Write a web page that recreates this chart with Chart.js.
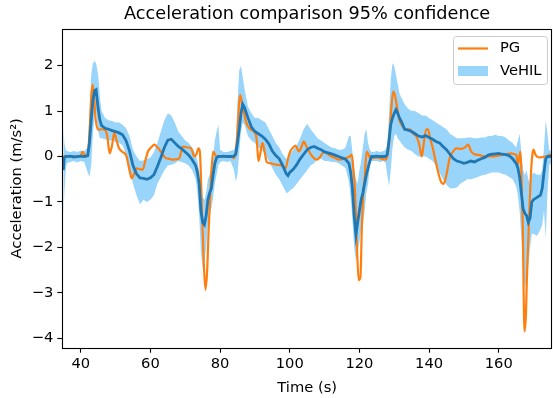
<!DOCTYPE html>
<html><head><meta charset="utf-8">
<script src="https://cdn.jsdelivr.net/npm/chart.js@4.4.0/dist/chart.umd.min.js"></script>
<style>html,body{margin:0;padding:0;background:#fff;}canvas{display:block;}</style>
</head><body>
<canvas id="c" width="553" height="398"></canvas>
<script>
const TITLE = "Acceleration comparison 95% confidence";
const X_LABEL = "Time (s)";
const Y_LABEL = "Acceleration (m/s²)";
const xTicks = [40, 60, 80, 100, 120, 140, 160];
const yTicks = [-4, -3, -2, -1, 0, 1, 2];
const yTickLabels = ["−4", "−3", "−2", "−1", "0", "1", "2"];
const seriesNames = ["PG", "VeHIL"];

const PG_t = [35,36,37,38,39,40,40.5,41,41.5,42,42.5,43,43.4,43.8,44.3,45,46,47,47.6,48.3,49,49.6,50.3,51,52,53,54,54.6,55.3,56,57,57.8,58.5,59.3,60.2,61.2,62,62.6,63.5,64.5,65.5,66.4,67.5,68.3,68.8,69.3,70.5,71.7,72.6,73.2,73.8,74.2,74.8,75.3,75.8,76.3,76.7,77.4,78,78.5,79,80,81,82,83,84,84.5,85,85.5,85.8,86.4,87.4,88.8,90.2,90.6,91,91.5,92.2,92.8,93.4,94.5,96,97.8,98.8,99.5,100.2,101,101.7,102.6,103.3,104,104.8,105.5,106.5,107.8,108.8,109.8,111,112,113,114,116,117.2,117.8,118.3,118.8,119.3,119.8,120.3,120.7,121.2,121.5,122.1,122.6,123.1,125,127.4,128,128.5,129.1,129.7,130.2,130.7,131.5,132.1,133.6,134.5,135.5,136.4,137.2,137.9,138.5,139.2,139.7,140.3,141.2,141.7,142.8,143.6,144.2,145,145.9,147,147.8,149.3,150.3,151.2,152.1,153,154.5,156,158,160,162,163.6,164.5,165,165.5,166.2,166.5,166.9,167.4,167.8,168.1,168.6,169.1,169.6,170,170.5,171,172,173.1,174,174.5,175.3];
const PG_a = [0.02,0,0,0,0,0.02,0.1,0.05,0,0.05,0.5,1.3,1.58,1.3,0.8,0.59,0.6,0.58,0.45,0.07,0.25,0.52,0.35,0.18,0.1,0.03,-0.3,-0.48,-0.38,-0.26,-0.28,-0.29,-0.1,0.11,0.2,0.26,0.2,0.15,0.05,-0.04,-0.05,-0.07,-0.06,-0.04,0.1,0.22,0.2,0.18,0,0.05,0.18,0.1,-1.2,-2.3,-2.93,-2.5,-1.65,-0.48,0.11,0.05,0,0,0,0,0,-0.04,0.1,0.55,1.2,1.35,1.14,0.77,0.59,0.5,0.3,-0.1,0.05,0.3,0.1,-0.12,-0.15,-0.18,-0.2,-0.26,-0.05,0.12,0.2,0.24,0.11,0.2,0.33,0.22,0.12,0,-0.07,0,0.1,0.05,0,-0.03,-0.07,-0.04,0,0.04,-0.3,-0.84,-2,-2.72,-2.65,-1.58,-0.7,-0.48,0.11,0.05,-0.04,-0.02,-0.07,0,0.26,0.99,1.43,1.35,1.14,0.8,0.7,0.59,0.6,0.5,0.44,0.26,0,0.3,0.6,0.6,0.4,0.15,-0.04,-0.4,-0.58,-0.6,-0.4,-0.04,0.12,0.18,0.17,0.2,0.26,0.11,0.05,0.03,0,0,0.02,0.05,0.07,0.05,0.04,-0.18,0.11,-0.3,-1.5,-3.85,-3.5,-2.68,-1.6,-0.62,0,0.15,0.05,0,-0.02,0,0,0.04,0.02];

const VeHIL_t = [35,35.3,35.7,36,37,38,39,40,41,42,42.5,43,43.5,44,44.4,45,45.5,46,47,48,49,50,51,52,53,54,55,56,57,58,59,60,61,62,63,64,65,66,67,68,69,70,71,72,73,73.5,74,74.5,75,75.5,76,76.5,77,77.5,78,78.5,79,79.5,80,81,82,83,84,84.5,85,85.5,86,86.5,87,88,89,90,91,92,93,94,95,96,97,98,99,99.5,100,101,102,103,104,105,106,107,108,109,110,111,112,113,114,115,116,117,117.5,118,118.5,119,119.5,120,120.5,121,121.5,122,122.5,123,123.5,124,125,126,127,127.5,128,128.5,129,129.5,130,130.5,131,131.5,132,133,134,135,136,137,138,139,140,141,142,143,144,145,146,147,148,149,150,151,152,153,154,155,156,157,158,159,160,161,162,163,164,165,165.5,166,166.5,167,167.5,168,168.5,169,169.5,170,171,172,172.5,173,173.5,174,174.5,175.3];
const VeHIL_mean = [-0.3,-0.02,0,0,0.01,-0.01,0,0.01,0,0.02,0.3,0.8,1.25,1.45,1.47,1.05,0.8,0.68,0.62,0.6,0.57,0.55,0.52,0.48,0.35,0.12,-0.2,-0.38,-0.47,-0.48,-0.5,-0.47,-0.4,-0.22,-0.02,0.2,0.36,0.38,0.3,0.22,0.17,0.1,0.03,-0.07,-0.2,-0.35,-0.6,-1.2,-1.45,-1.5,-1.3,-0.95,-0.8,-0.7,-0.4,-0.15,-0.03,0,0,0.01,0,0,0.01,0.05,0.3,0.6,0.95,1.15,1.08,0.85,0.65,0.55,0.5,0.45,0.38,0.28,0.12,0.02,-0.05,-0.2,-0.38,-0.42,-0.35,-0.28,-0.18,-0.05,0.05,0.15,0.2,0.22,0.18,0.15,0.1,0.08,0.06,0.03,0,-0.03,-0.06,-0.15,-0.35,-0.7,-1.3,-1.72,-1.45,-1.2,-0.95,-0.8,-0.6,-0.4,-0.25,-0.1,0,0,0.01,0,0,0,0.05,0.35,0.7,0.85,0.95,1.03,0.95,0.85,0.78,0.6,0.58,0.55,0.5,0.45,0.43,0.46,0.42,0.38,0.33,0.3,0.22,0.15,0.05,-0.05,-0.1,-0.12,-0.15,-0.13,-0.1,-0.12,-0.08,-0.05,-0.02,0.03,0.05,0.06,0.07,0.05,0.04,0.02,-0.05,-0.15,-0.25,-0.45,-0.8,-1.15,-1.25,-1.3,-1.45,-1.35,-1,-0.95,-0.9,-0.85,-0.7,-0.35,-0.05,0,0,0];
const VeHIL_lo = [-1.3,-0.8,-0.3,-0.15,-0.12,-0.1,-0.13,-0.1,-0.12,-0.35,-0.45,-0.2,0.5,0.9,1,0.55,0.4,0.4,0.38,0.35,0.35,0.32,0.3,0.25,0.05,-0.25,-0.6,-0.85,-1.05,-0.95,-1,-0.95,-0.85,-0.6,-0.45,-0.3,-0.2,-0.18,-0.15,-0.1,-0.12,-0.15,-0.2,-0.3,-0.5,-0.8,-1.3,-2.1,-2.45,-2.3,-2,-1.5,-1.3,-1.15,-0.9,-0.6,-0.4,-0.2,-0.12,-0.1,-0.12,-0.1,-0.3,-0.55,-0.4,0.1,0.55,0.75,0.7,0.45,0.35,0.3,0.2,0.15,0.05,-0.1,-0.25,-0.4,-0.5,-0.65,-0.8,-0.8,-0.75,-0.7,-0.6,-0.5,-0.4,-0.3,-0.2,-0.15,-0.05,-0.05,-0.1,-0.1,-0.12,-0.12,-0.15,-0.2,-0.25,-0.55,-0.9,-1.4,-2,-2.3,-2.1,-1.9,-1.6,-1.5,-1.2,-0.8,-0.6,-0.2,-0.1,-0.1,-0.1,-0.12,-0.1,-0.15,-0.4,-0.65,-0.3,0.2,0.45,0.5,0.4,0.35,0.3,0.2,0.15,0.12,0.05,0,0,0,-0.05,-0.1,-0.2,-0.35,-0.5,-0.62,-0.7,-0.7,-0.68,-0.6,-0.55,-0.5,-0.5,-0.48,-0.45,-0.42,-0.4,-0.38,-0.35,-0.35,-0.35,-0.38,-0.4,-0.45,-0.5,-0.65,-0.85,-1.2,-1.8,-2.4,-2.9,-2.7,-2.4,-2,-1.7,-1.7,-1.75,-1.6,-1.5,-1.2,-1.8,-0.8,-0.2,-0.1];
const VeHIL_hi = [0.65,0.3,0.15,0.12,0.1,0.12,0.1,0.13,0.12,0.2,0.9,1.8,2.05,2.1,2.05,1.8,1.3,1,0.85,0.8,0.78,0.75,0.75,0.7,0.62,0.45,0.15,0,-0.1,-0.08,-0.05,-0.02,0.1,0.3,0.55,0.8,0.95,0.9,0.75,0.55,0.45,0.35,0.3,0.2,0.05,-0.1,-0.3,-0.7,-0.9,-0.95,-0.8,-0.5,-0.4,-0.3,0,0.35,0.55,0.7,0.15,0.1,0.1,0.12,0.15,0.3,1.2,1.9,2,1.75,1.5,1.1,0.95,0.85,0.85,0.8,0.75,0.6,0.45,0.3,0.2,0.05,-0.05,-0.05,0.05,0.15,0.25,0.4,0.6,0.72,0.6,0.5,0.4,0.35,0.3,0.25,0.2,0.18,0.15,0.15,0.2,0.45,0.45,0.1,-0.3,-0.5,-0.6,-0.3,-0.1,0.2,0.5,0.6,0.3,0.15,0.1,0.1,0.12,0.1,0.12,0.15,0.25,0.9,1.7,2.05,2,1.8,1.6,1.4,1.3,1.15,1.05,1,1,0.95,0.9,0.9,0.85,0.8,0.75,0.7,0.65,0.6,0.5,0.45,0.4,0.4,0.4,0.42,0.42,0.4,0.4,0.42,0.42,0.45,0.45,0.48,0.45,0.45,0.42,0.35,0.3,0.2,0.35,0.5,0.1,-0.3,-0.4,-0.3,-0.5,-0.6,-0.4,-0.35,-0.4,-0.4,-0.3,0.2,0.8,0.5,0.15,0.1];

const pts = (xs, ys) => xs.map((x, i) => ({ x: x, y: ys[i] }));
const FONT = "'DejaVu Sans', sans-serif";
const TICK_SIZE = 14.7, TITLE_SIZE = 17.7;
const ORANGE = "#ff7f0e", BLUE = "#1f77b4", BAND = "rgba(135,206,250,0.85)";

const framePlugin = {
  id: "frame",
  afterDraw(chart) {
    const { ctx, chartArea: a } = chart;
    ctx.save();
    ctx.strokeStyle = "#000"; ctx.lineWidth = 1.1;
    ctx.strokeRect(Math.round(a.left) + 0.5, Math.round(a.top) + 0.5, Math.round(a.right - a.left) - 1, Math.round(a.bottom - a.top));
    // title
    ctx.fillStyle = "#000";
    ctx.font = TITLE_SIZE + "px " + FONT;
    ctx.textAlign = "center"; ctx.textBaseline = "middle";
    ctx.fillText(TITLE, (a.left + a.right) / 2, 14);
    // legend
    const lx = 453.5, ly = 36.5, lw = 94, lh = 48;
    ctx.beginPath();
    if (ctx.roundRect) ctx.roundRect(lx, ly, lw, lh, 3); else ctx.rect(lx, ly, lw, lh);
    ctx.fillStyle = "rgba(255,255,255,0.8)"; ctx.fill();
    ctx.strokeStyle = "#cccccc"; ctx.lineWidth = 1; ctx.stroke();
    ctx.strokeStyle = ORANGE; ctx.lineWidth = 2.2;
    ctx.beginPath(); ctx.moveTo(458, 48.5); ctx.lineTo(488, 48.5); ctx.stroke();
    ctx.fillStyle = BAND; ctx.fillRect(458, 66, 30, 10);
    ctx.fillStyle = "#000"; ctx.font = TICK_SIZE + "px " + FONT;
    ctx.textAlign = "left"; ctx.textBaseline = "middle";
    ctx.fillText(seriesNames[0], 500, 48.5);
    ctx.fillText(seriesNames[1], 500, 71);
    ctx.restore();
  }
};

new Chart(document.getElementById("c"), {
  type: "line",
  data: {
    datasets: [
      { label: seriesNames[1] + " upper", data: pts(VeHIL_t, VeHIL_hi), borderWidth: 0, borderColor: "rgba(0,0,0,0)", backgroundColor: BAND, fill: "+1", pointRadius: 0, tension: 0, order: 2 },
      { label: seriesNames[1] + " lower", data: pts(VeHIL_t, VeHIL_lo), borderWidth: 0, borderColor: "rgba(0,0,0,0)", fill: false, pointRadius: 0, tension: 0, order: 3 },
      { label: seriesNames[0], data: pts(PG_t, PG_a), borderColor: ORANGE, borderWidth: 2.2, pointRadius: 0, fill: false, cubicInterpolationMode: "monotone", order: 1 },
      { label: seriesNames[1], data: pts(VeHIL_t, VeHIL_mean), borderColor: BLUE, borderWidth: 2.8, pointRadius: 0, fill: false, tension: 0, order: 0 }
    ]
  },
  options: {
    responsive: false, animation: false, devicePixelRatio: 1,
    layout: { padding: { top: 29, right: 1, bottom: 0, left: 0 } },
    plugins: { legend: { display: false }, tooltip: { enabled: false }, title: { display: false } },
    scales: {
      x: {
        type: "linear", min: 34.7, max: 175.3,
        afterBuildTicks: s => { s.ticks = xTicks.map(v => ({ value: v })); },
        afterFit: s => { s.height = 50.3; },
        grid: { drawOnChartArea: false, drawTicks: true, tickLength: 5, tickColor: "#000", tickWidth: 1.1 },
        border: { display: false },
        ticks: { color: "#000", font: { family: FONT, size: TICK_SIZE }, padding: 3, maxRotation: 0, callback: v => String(v) },
        title: { display: true, text: X_LABEL, color: "#000", font: { family: FONT, size: TICK_SIZE }, padding: { top: 0, bottom: 1.5 } }
      },
      y: {
        type: "linear", min: -4.207, max: 2.806,
        afterBuildTicks: s => { s.ticks = yTicks.map(v => ({ value: v })); },
        afterFit: s => { s.width = 62.3; },
        grid: { drawOnChartArea: false, drawTicks: true, tickLength: 5, tickColor: "#000", tickWidth: 1.1 },
        border: { display: false },
        ticks: { color: "#000", font: { family: FONT, size: TICK_SIZE }, padding: 4, callback: v => yTickLabels[yTicks.indexOf(v)] },
        title: { display: true, text: Y_LABEL, color: "#000", font: { family: FONT, size: TICK_SIZE }, padding: { top: 8, bottom: 0 } }
      }
    }
  },
  plugins: [framePlugin]
});
</script>
</body></html>
